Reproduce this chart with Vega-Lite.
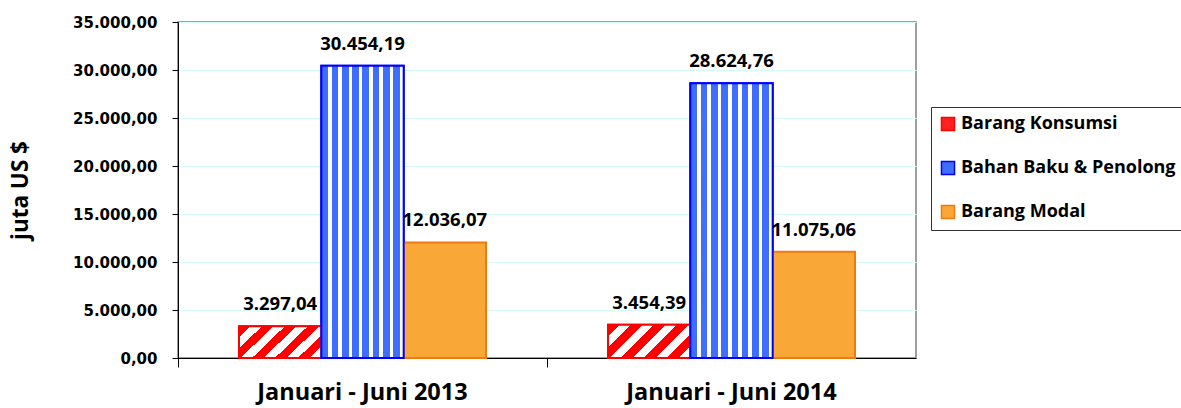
{
  "$schema": "https://vega.github.io/schema/vega-lite/v6.json",
  "width": 738,
  "height": 336,
  "autosize": {"type": "none"},
  "padding": {"left": 178, "top": 22, "right": 265, "bottom": 50},
  "background": "white",
  "data": {
    "values": [
      {"periode": "Januari - Juni 2013", "jenis": "Barang Konsumsi", "nilai": 3297.04},
      {"periode": "Januari - Juni 2013", "jenis": "Bahan Baku & Penolong", "nilai": 30454.19},
      {"periode": "Januari - Juni 2013", "jenis": "Barang Modal", "nilai": 12036.07},
      {"periode": "Januari - Juni 2014", "jenis": "Barang Konsumsi", "nilai": 3454.39},
      {"periode": "Januari - Juni 2014", "jenis": "Bahan Baku & Penolong", "nilai": 28624.76},
      {"periode": "Januari - Juni 2014", "jenis": "Barang Modal", "nilai": 11075.06}
    ]
  },
  "encoding": {
    "x": {
      "field": "periode", "type": "nominal", "sort": null,
      "scale": {"domain": ["Januari - Juni 2013", "Januari - Juni 2014"], "paddingInner": 0, "paddingOuter": 0},
      "axis": {"title": null, "labelAngle": 0, "bandPosition": 0, "tickSize": 9, "labelPadding": 13, "labelLimit": 400,
        "labelFont": "Open Sans", "labelFontWeight": "bold", "labelFontSize": 23.5, "labelColor": "#000",
        "domainColor": "#000", "tickColor": "#000", "grid": false}
    },
    "xOffset": {
      "field": "jenis", "type": "nominal",
      "scale": {"domain": ["Barang Konsumsi", "Bahan Baku & Penolong", "Barang Modal"], "paddingInner": 0, "paddingOuter": 0.741}
    },
    "y": {
      "field": "nilai", "type": "quantitative",
      "scale": {"domain": [0, 35000], "nice": false},
      "axis": {"title": "juta US $", "titleFont": "Open Sans", "titleFontWeight": "bold", "titleFontSize": 22.5, "titleColor": "#000", "titlePadding": 40,
        "values": [0, 5000, 10000, 15000, 20000, 25000, 30000, 35000], "format": ",.2f",
        "labelFont": "DejaVu Sans", "labelFontWeight": "bold", "labelFontSize": 15, "labelColor": "#000", "labelPadding": 15,
        "tickSize": 6, "tickColor": "#000", "domainColor": "#000", "grid": true, "gridColor": "#D6FAFA"}
    }
  },
  "layer": [
    {
      "mark": {"type": "bar", "strokeWidth": 2},
      "encoding": {
        "fill": {
          "field": "jenis", "type": "nominal",
          "scale": {
            "domain": ["Barang Konsumsi", "Bahan Baku & Penolong", "Barang Modal"],
            "range": ["#FF2020", "#3F6EFF", "#F9A838"]
          },
          "legend": {"title": null, "orient": "none", "legendX": 753, "legendY": 85, "direction": "vertical", "strokeColor": "#333", "fillColor": "#FFFFFF",
            "padding": 8, "symbolType": "square", "symbolSize": 170, "symbolStrokeWidth": 1.5, "labelFont": "Open Sans", "labelFontWeight": "bold",
            "labelFontSize": 18, "labelColor": "#000", "labelLimit": 400, "rowPadding": 24, "labelOffset": 4}
        },
        "stroke": {
          "field": "jenis", "type": "nominal",
          "scale": {
            "domain": ["Barang Konsumsi", "Bahan Baku & Penolong", "Barang Modal"],
            "range": ["#FF0000", "#0000FF", "#EE7A10"]
          },
          "legend": {"title": null, "orient": "none", "legendX": 753, "legendY": 85, "direction": "vertical", "strokeColor": "#333", "fillColor": "#FFFFFF",
            "padding": 8, "symbolType": "square", "symbolSize": 170, "symbolStrokeWidth": 1.5, "labelFont": "Open Sans", "labelFontWeight": "bold",
            "labelFontSize": 18, "labelColor": "#000", "labelLimit": 400, "rowPadding": 24, "labelOffset": 4}
        }
      }
    },
    {
      "transform": [{"filter": "datum.jenis === 'Barang Konsumsi'"}],
      "mark": {"type": "bar", "strokeWidth": 2, "stroke": "#FF0000",
        "fill": {"gradient": "linear", "x1": 0, "y1": 0, "x2": 1.2, "y2": 0.48, "stops": [
          {"offset": 0, "color": "#FF0000"}, {"offset": 0.1, "color": "#FF0000"}, {"offset": 0.1, "color": "#FFFFFF"}, {"offset": 0.2, "color": "#FFFFFF"},
          {"offset": 0.2, "color": "#FF0000"}, {"offset": 0.3, "color": "#FF0000"}, {"offset": 0.3, "color": "#FFFFFF"}, {"offset": 0.4, "color": "#FFFFFF"},
          {"offset": 0.4, "color": "#FF0000"}, {"offset": 0.5, "color": "#FF0000"}, {"offset": 0.5, "color": "#FFFFFF"}, {"offset": 0.6, "color": "#FFFFFF"},
          {"offset": 0.6, "color": "#FF0000"}, {"offset": 0.7, "color": "#FF0000"}, {"offset": 0.7, "color": "#FFFFFF"}, {"offset": 0.8, "color": "#FFFFFF"},
          {"offset": 0.8, "color": "#FF0000"}, {"offset": 0.9, "color": "#FF0000"}, {"offset": 0.9, "color": "#FFFFFF"}, {"offset": 1, "color": "#FFFFFF"}
        ]}},
      "encoding": {}
    },
    {
      "transform": [{"filter": "datum.jenis === 'Bahan Baku & Penolong'"}],
      "mark": {"type": "bar", "strokeWidth": 2, "stroke": "#0000FF",
        "fill": {"gradient": "linear", "x1": 0, "y1": 0, "x2": 1, "y2": 0, "stops": [
          {"offset": 0, "color": "#3F6EFF"}, {"offset": 0.08, "color": "#3F6EFF"}, {"offset": 0.08, "color": "#FFFFFF"}, {"offset": 0.125, "color": "#FFFFFF"},
          {"offset": 0.125, "color": "#3F6EFF"}, {"offset": 0.205, "color": "#3F6EFF"}, {"offset": 0.205, "color": "#FFFFFF"}, {"offset": 0.25, "color": "#FFFFFF"},
          {"offset": 0.25, "color": "#3F6EFF"}, {"offset": 0.33, "color": "#3F6EFF"}, {"offset": 0.33, "color": "#FFFFFF"}, {"offset": 0.375, "color": "#FFFFFF"},
          {"offset": 0.375, "color": "#3F6EFF"}, {"offset": 0.455, "color": "#3F6EFF"}, {"offset": 0.455, "color": "#FFFFFF"}, {"offset": 0.5, "color": "#FFFFFF"},
          {"offset": 0.5, "color": "#3F6EFF"}, {"offset": 0.58, "color": "#3F6EFF"}, {"offset": 0.58, "color": "#FFFFFF"}, {"offset": 0.625, "color": "#FFFFFF"},
          {"offset": 0.625, "color": "#3F6EFF"}, {"offset": 0.705, "color": "#3F6EFF"}, {"offset": 0.705, "color": "#FFFFFF"}, {"offset": 0.75, "color": "#FFFFFF"},
          {"offset": 0.75, "color": "#3F6EFF"}, {"offset": 0.83, "color": "#3F6EFF"}, {"offset": 0.83, "color": "#FFFFFF"}, {"offset": 0.875, "color": "#FFFFFF"},
          {"offset": 0.875, "color": "#3F6EFF"}, {"offset": 0.955, "color": "#3F6EFF"}, {"offset": 0.955, "color": "#FFFFFF"}, {"offset": 1, "color": "#FFFFFF"}
        ]}},
      "encoding": {}
    },
    {
      "mark": {"type": "text", "dy": -16, "baseline": "alphabetic", "font": "Open Sans", "fontWeight": "bold", "fontSize": 18.5, "color": "#000"},
      "encoding": {
        "text": {"field": "nilai", "type": "quantitative", "format": ",.2f"}
      }
    }
  ],
  "config": {
    "locale": {"number": {"decimal": ",", "thousands": ".", "grouping": [3], "currency": ["", " $"]}},
    "view": {"stroke": "#808080", "strokeWidth": 1.5}
  }
}
